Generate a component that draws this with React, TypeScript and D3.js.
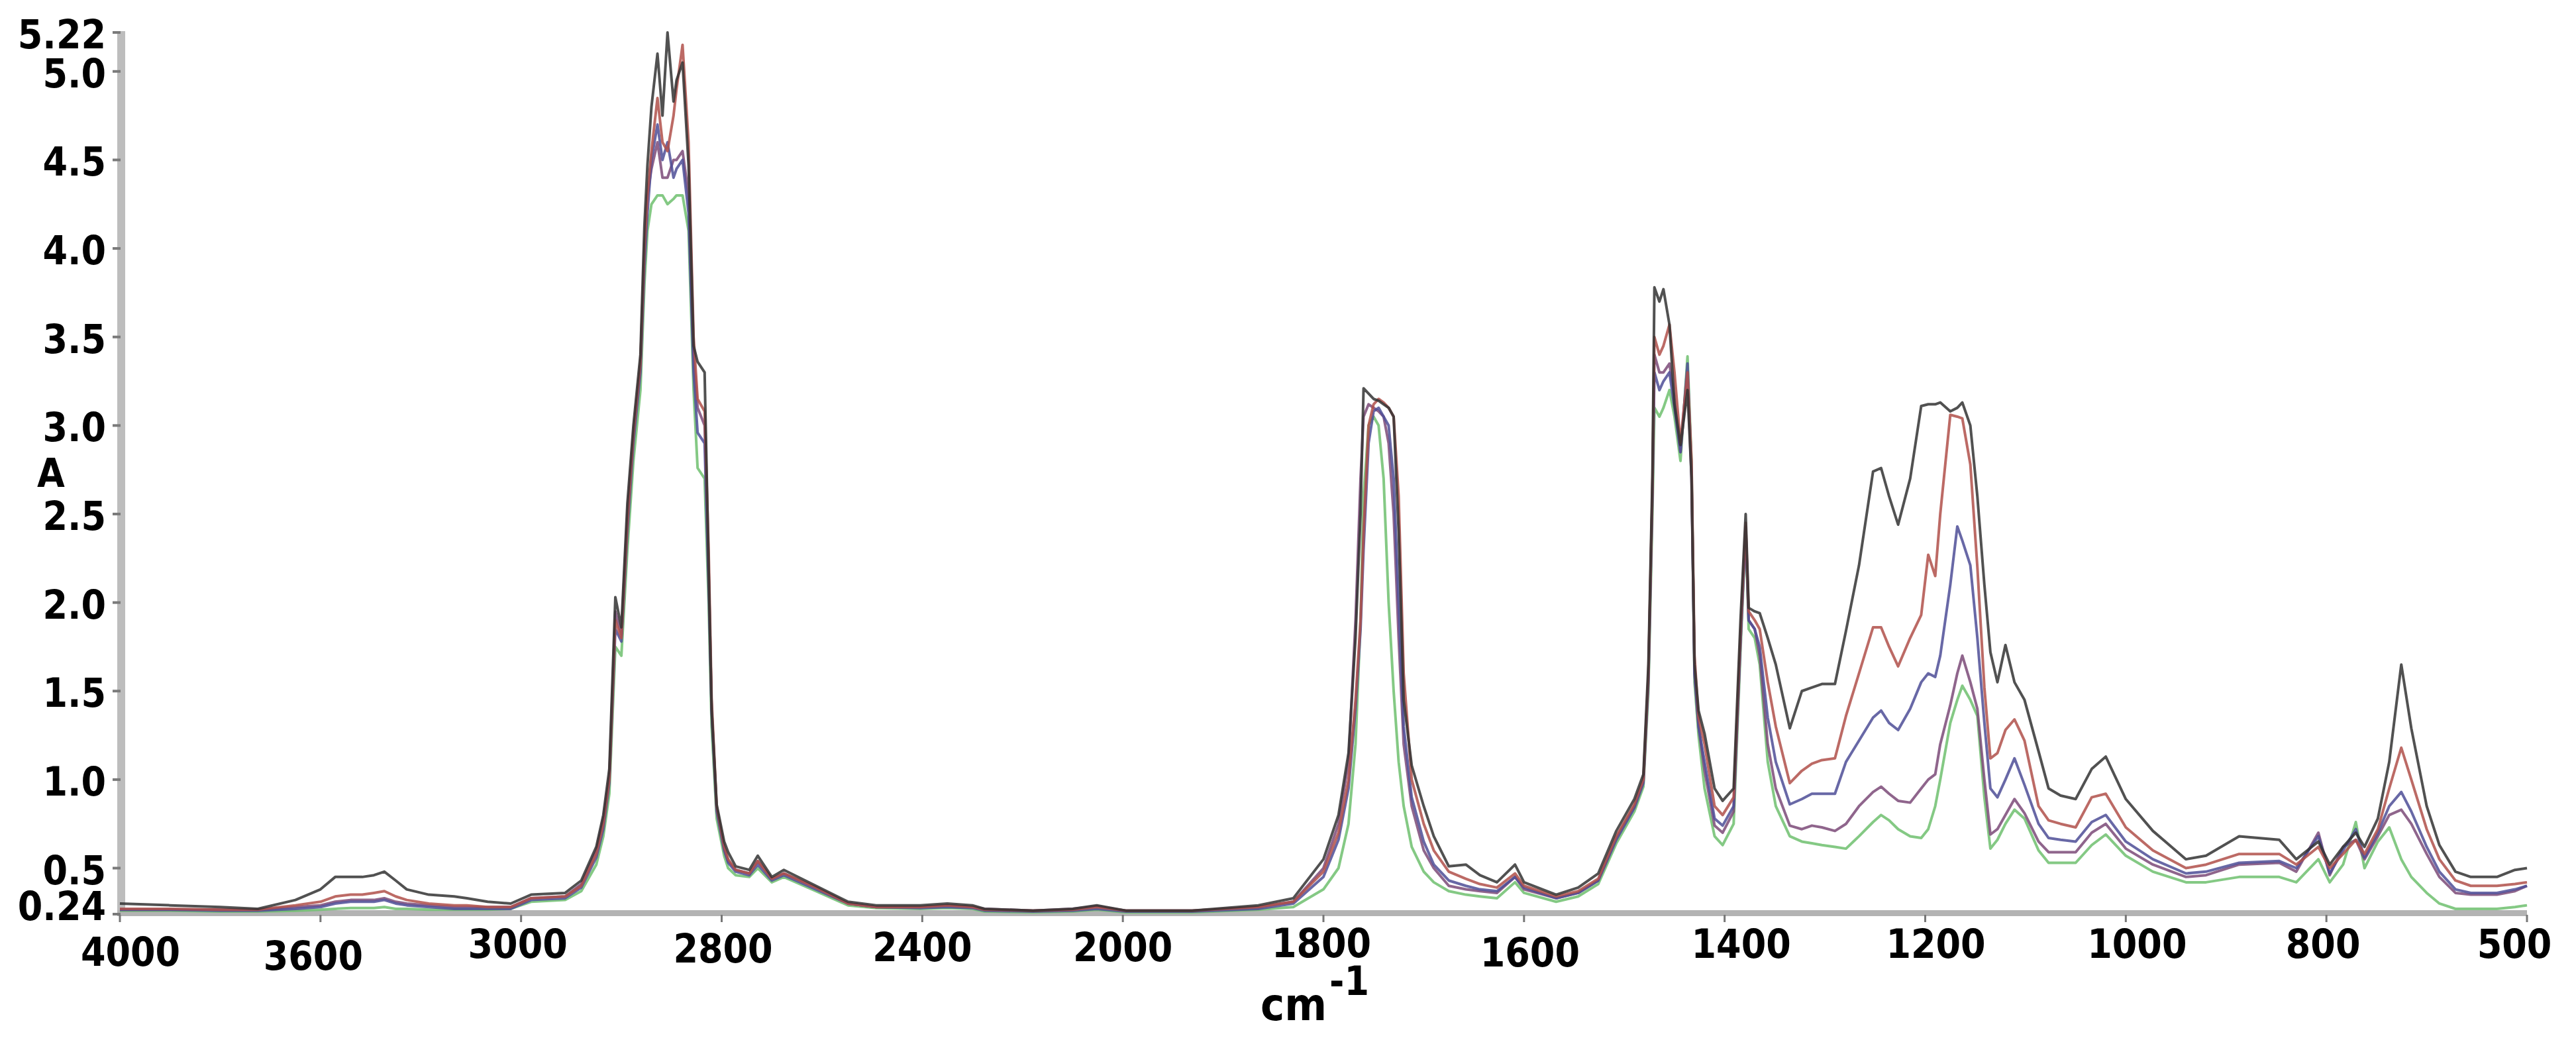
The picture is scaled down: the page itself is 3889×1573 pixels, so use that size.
import React from "react";
import * as d3 from "d3";

// ---------- data ----------
const X_TICKS = [4000, 3600, 3000, 2800, 2400, 2000, 1800, 1600, 1400, 1200, 1000, 800, 500];
const Y_TICKS = [5.22, 5.0, 4.5, 4.0, 3.5, 3.0, 2.5, 2.0, 1.5, 1.0, 0.5, 0.24];
const Y_TICK_LABELS = ["5.22", "5.0", "4.5", "4.0", "3.5", "3.0", "2.5", "2.0", "1.5", "1.0", "0.5", "0.24"];

const WAVENUMBERS = [
  4000, 3900, 3800, 3725, 3650, 3600, 3556, 3510, 3475, 3440, 3409, 3375, 3342, 3276, 3200, 3162, 3100, 3031,
  2990, 2956, 2940, 2925, 2918, 2912, 2906, 2900, 2894, 2888, 2881, 2877, 2874, 2870, 2864, 2859, 2854, 2848, 2845, 2839, 2833, 2828, 2824, 2817, 2813, 2810, 2805, 2795, 2787,
  2772, 2745, 2728, 2700, 2676, 2612, 2548, 2492, 2404, 2350, 2300, 2276, 2179, 2100, 2052, 1997, 1931, 1865, 1830,
  1800, 1785, 1775, 1768, 1763, 1760, 1755, 1750, 1745, 1740, 1735, 1730, 1725, 1720, 1712, 1700, 1690, 1675, 1658, 1644, 1627, 1609, 1600, 1568, 1546, 1526,
  1508, 1490, 1481, 1476, 1472, 1470, 1465, 1461, 1455, 1450, 1444, 1437, 1433, 1430, 1426, 1420, 1410, 1402, 1391, 1384, 1379, 1376,
  1370, 1365, 1357, 1349, 1335, 1323, 1313, 1303, 1290, 1279, 1266, 1252, 1244, 1236, 1227, 1215, 1204, 1197, 1190, 1185,
  1175, 1168, 1163, 1155, 1148, 1141, 1135, 1128, 1120, 1111, 1101, 1087, 1077, 1065, 1050, 1034, 1020, 1000, 973, 940,
  920, 887, 847, 830, 808, 795, 775, 756, 743, 723, 706, 688, 673, 650, 631, 607, 584, 545, 518, 500,
];

const SAMPLE_BLACK = [
  0.30, 0.29, 0.28, 0.27, 0.32, 0.38, 0.45, 0.45, 0.45, 0.46, 0.48, 0.43, 0.38, 0.35, 0.34, 0.33, 0.31, 0.30,
  0.35, 0.36, 0.43, 0.62, 0.80, 1.06, 2.03, 1.86, 2.56, 3.00, 3.40, 4.13, 4.47, 4.80, 5.10, 4.75, 5.22, 4.83, 4.95, 5.05, 4.47, 3.45, 3.36, 3.30, 2.2, 1.40, 0.86, 0.65, 0.59,
  0.51, 0.49, 0.57, 0.45, 0.49, 0.40, 0.31, 0.29, 0.29, 0.30, 0.29, 0.27, 0.26, 0.27, 0.29, 0.26, 0.26, 0.29, 0.33,
  0.55, 0.80, 1.15, 1.8, 2.5, 3.21, 3.18, 3.15, 3.14, 3.12, 3.10, 3.05, 2.4, 1.45, 1.08, 0.85, 0.68, 0.51, 0.52, 0.46, 0.42, 0.52, 0.42, 0.35, 0.39, 0.47,
  0.71, 0.89, 1.03, 1.65, 2.71, 3.78, 3.70, 3.77, 3.57, 3.12, 2.89, 3.2, 2.71, 1.65, 1.39, 1.26, 0.95, 0.88, 0.95, 1.92, 2.50, 1.97,
  1.95, 1.94, 1.80, 1.65, 1.29, 1.50, 1.52, 1.54, 1.54, 1.84, 2.21, 2.74, 2.76, 2.6, 2.44, 2.70, 3.11, 3.12, 3.12, 3.13,
  3.08, 3.10, 3.13, 3.00, 2.6, 2.1, 1.72, 1.55, 1.76, 1.55, 1.45, 1.16, 0.95, 0.91, 0.89, 1.06, 1.13, 0.89, 0.71, 0.55,
  0.57, 0.68, 0.66, 0.55, 0.65, 0.52, 0.62, 0.70, 0.62, 0.78, 1.10, 1.65, 1.29, 0.85, 0.63, 0.48, 0.45, 0.45, 0.49, 0.50,
];

const SAMPLE_RED = [
  0.27, 0.27, 0.265, 0.265, 0.29, 0.31, 0.34, 0.35, 0.35, 0.36, 0.37, 0.34, 0.32, 0.30, 0.29, 0.29, 0.28, 0.28,
  0.33, 0.34, 0.40, 0.58, 0.75, 1.0, 1.90, 1.80, 2.45, 2.95, 3.35, 4.0, 4.3, 4.55, 4.85, 4.6, 4.55, 4.75, 4.9, 5.15, 4.6, 3.5, 3.15, 3.08, 2.3, 1.45, 0.85, 0.62, 0.55,
  0.49, 0.47, 0.54, 0.44, 0.47, 0.39, 0.30, 0.28, 0.28, 0.29, 0.28, 0.265, 0.26, 0.265, 0.28, 0.26, 0.26, 0.28, 0.31,
  0.48, 0.70, 1.0, 1.45, 1.9, 2.4, 3.0, 3.12, 3.15, 3.13, 3.10, 3.05, 2.6, 1.6, 1.0, 0.75, 0.60, 0.48, 0.44, 0.41, 0.39, 0.47, 0.40, 0.34, 0.37, 0.44,
  0.68, 0.86, 1.0, 1.6, 2.65, 3.5, 3.4, 3.45, 3.57, 3.3, 2.9, 3.3, 2.8, 1.7, 1.35, 1.2, 0.85, 0.80, 0.9, 1.85, 2.45, 1.95,
  1.9, 1.85, 1.55, 1.3, 0.98, 1.05, 1.09, 1.11, 1.12, 1.36, 1.6, 1.86, 1.86, 1.75, 1.64, 1.8, 1.93, 2.27, 2.15, 2.5,
  3.06, 3.05, 3.04, 2.78, 2.2, 1.52, 1.12, 1.15, 1.28, 1.34, 1.22, 0.85, 0.77, 0.75, 0.73, 0.90, 0.92, 0.73, 0.6, 0.5,
  0.52, 0.58, 0.58, 0.52, 0.62, 0.50, 0.58, 0.66, 0.58, 0.72, 0.95, 1.18, 1.0, 0.72, 0.55, 0.43, 0.40, 0.40, 0.41, 0.42,
];

const SAMPLE_BLUE = [
  0.265, 0.265, 0.26, 0.26, 0.27, 0.28, 0.30, 0.31, 0.31, 0.31, 0.32, 0.30, 0.29, 0.28, 0.27, 0.27, 0.27, 0.27,
  0.32, 0.33, 0.39, 0.56, 0.72, 0.98, 1.85, 1.78, 2.4, 2.9, 3.3, 3.9, 4.2, 4.5, 4.7, 4.5, 4.6, 4.4, 4.45, 4.5, 4.2, 3.3, 2.96, 2.9, 2.1, 1.38, 0.82, 0.60, 0.53,
  0.48, 0.46, 0.52, 0.43, 0.46, 0.38, 0.30, 0.28, 0.275, 0.28, 0.275, 0.26, 0.255, 0.26, 0.27, 0.255, 0.255, 0.27, 0.30,
  0.45, 0.66, 0.95, 1.4, 1.85, 2.3, 2.9, 3.08, 3.10, 3.05, 3.0, 2.7, 2.0, 1.3, 0.9, 0.65, 0.52, 0.43, 0.40, 0.38, 0.37, 0.45, 0.39, 0.33, 0.36, 0.43,
  0.66, 0.84, 0.98, 1.55, 2.6, 3.3, 3.2, 3.25, 3.3, 3.1, 2.85, 3.35, 2.75, 1.6, 1.3, 1.1, 0.78, 0.74, 0.85, 1.8, 2.42, 1.9,
  1.85, 1.75, 1.35, 1.1, 0.86, 0.89, 0.92, 0.92, 0.92, 1.1, 1.22, 1.35, 1.39, 1.32, 1.28, 1.4, 1.55, 1.60, 1.58, 1.7,
  2.1, 2.43, 2.35, 2.21, 1.8, 1.32, 0.95, 0.9, 1.0, 1.12, 0.97, 0.75, 0.67, 0.66, 0.65, 0.76, 0.80, 0.65, 0.55, 0.47,
  0.48, 0.53, 0.54, 0.50, 0.68, 0.47, 0.60, 0.72, 0.56, 0.70, 0.85, 0.93, 0.82, 0.62, 0.48, 0.38, 0.36, 0.36, 0.38, 0.40,
];

const SAMPLE_PURPLE = [
  0.265, 0.265, 0.265, 0.265, 0.28, 0.29, 0.31, 0.32, 0.32, 0.32, 0.33, 0.31, 0.30, 0.29, 0.28, 0.28, 0.28, 0.28,
  0.33, 0.34, 0.41, 0.60, 0.78, 1.02, 1.95, 1.82, 2.5, 2.95, 3.35, 4.0, 4.3, 4.45, 4.6, 4.4, 4.4, 4.5, 4.5, 4.55, 4.3, 3.4, 3.1, 3.0, 2.2, 1.4, 0.84, 0.61, 0.54,
  0.49, 0.47, 0.54, 0.44, 0.47, 0.39, 0.30, 0.28, 0.28, 0.29, 0.28, 0.27, 0.26, 0.27, 0.285, 0.26, 0.26, 0.28, 0.31,
  0.50, 0.75, 1.1, 1.9, 2.7, 3.05, 3.12, 3.10, 3.08, 3.05, 2.9, 2.5, 1.8, 1.2, 0.85, 0.6, 0.5, 0.4, 0.38, 0.37, 0.36, 0.45, 0.38, 0.33, 0.36, 0.43,
  0.67, 0.85, 0.99, 1.58, 2.62, 3.4, 3.3, 3.3, 3.35, 3.15, 2.85, 3.3, 2.7, 1.6, 1.3, 1.05, 0.74, 0.70, 0.82, 1.8, 2.43, 1.9,
  1.85, 1.7, 1.2, 0.95, 0.74, 0.72, 0.74, 0.73, 0.71, 0.75, 0.85, 0.93, 0.96, 0.92, 0.88, 0.87, 0.95, 1.0, 1.03, 1.2,
  1.42, 1.6, 1.70, 1.55, 1.4, 1.0, 0.69, 0.72, 0.8, 0.89, 0.81, 0.65, 0.59, 0.59, 0.59, 0.7, 0.75, 0.61, 0.52, 0.45,
  0.46, 0.52, 0.53, 0.48, 0.70, 0.46, 0.62, 0.66, 0.55, 0.68, 0.80, 0.83, 0.75, 0.58, 0.45, 0.36, 0.35, 0.35, 0.37, 0.40,
];

const SAMPLE_GREEN = [
  0.26, 0.26, 0.255, 0.255, 0.26, 0.265, 0.27, 0.275, 0.275, 0.275, 0.28, 0.27, 0.27, 0.265, 0.265, 0.265, 0.265, 0.27,
  0.31, 0.32, 0.37, 0.52, 0.68, 0.92, 1.75, 1.70, 2.3, 2.8, 3.2, 3.8, 4.1, 4.25, 4.3, 4.3, 4.25, 4.28, 4.3, 4.3, 4.1, 3.2, 2.76, 2.7, 2.0, 1.3, 0.78, 0.57, 0.50,
  0.46, 0.45, 0.50, 0.42, 0.45, 0.37, 0.29, 0.275, 0.27, 0.275, 0.27, 0.255, 0.25, 0.255, 0.265, 0.25, 0.25, 0.265, 0.28,
  0.38, 0.50, 0.75, 1.2, 1.9, 2.6, 3.0, 3.05, 3.0, 2.7, 2.0, 1.5, 1.1, 0.85, 0.62, 0.48, 0.42, 0.37, 0.35, 0.34, 0.33, 0.42, 0.36, 0.31, 0.34, 0.41,
  0.64, 0.82, 0.96, 1.5, 2.5, 3.1, 3.05, 3.1, 3.2, 3.05, 2.8, 3.39, 2.8, 1.55, 1.25, 0.95, 0.68, 0.63, 0.75, 1.75, 2.40, 1.85,
  1.8, 1.65, 1.1, 0.85, 0.68, 0.65, 0.64, 0.63, 0.62, 0.61, 0.68, 0.76, 0.80, 0.77, 0.72, 0.68, 0.67, 0.72, 0.85, 1.0,
  1.32, 1.45, 1.53, 1.45, 1.36, 0.9, 0.61, 0.66, 0.75, 0.83, 0.78, 0.60, 0.53, 0.53, 0.53, 0.63, 0.69, 0.57, 0.48, 0.42,
  0.42, 0.45, 0.45, 0.42, 0.55, 0.42, 0.52, 0.76, 0.50, 0.65, 0.73, 0.55, 0.45, 0.36, 0.30, 0.27, 0.27, 0.27, 0.28, 0.29,
];

// drawing order: bottom first
const SERIES = [
  { name: "green", values: SAMPLE_GREEN, color: "#6fbf6f" },
  { name: "purple", values: SAMPLE_PURPLE, color: "#7b4a78" },
  { name: "blue", values: SAMPLE_BLUE, color: "#4e4e96" },
  { name: "red", values: SAMPLE_RED, color: "#b0504a" },
  { name: "black", values: SAMPLE_BLACK, color: "#333333" },
];

// ---------- layout ----------
const W = 3889;
const H = 1573;
const X_LEFT = 181;
const X_RIGHT = 3815;
const Y_BOTTOM = 1380;
const Y_TOP = 49;
const FONT = "'DejaVu Sans Condensed', 'DejaVu Sans', sans-serif";
const X_LABEL_NUDGE = [
  [16, 7], [-11, 13], [-5, -5], [2, 2], [0, 0], [0, 0], [-3, -6], [9, 8], [25, -5], [16, -5], [17, -5], [-5, -5], [-19, -5],
];

export default function App() {
  const step = (X_RIGHT - X_LEFT) / (X_TICKS.length - 1);
  const x = d3
    .scaleLinear()
    .domain(X_TICKS)
    .range(X_TICKS.map((_, i) => X_LEFT + i * step));
  const y = d3.scaleLinear().domain([0.24, 5.22]).range([Y_BOTTOM, Y_TOP]);

  const makeLine = (vals: number[]) =>
    d3
      .line<number>()
      .x((_, i) => x(WAVENUMBERS[i]))
      .y((d) => y(d))
      .curve(d3.curveLinear)(vals) || "";

  return (
    <div style={{ position: "absolute", left: 0, top: 0, width: W, height: H, background: "#fff" }}>
      <svg width={W} height={H} style={{ display: "block" }}>
        <rect x={0} y={0} width={W} height={H} fill="#fff" />
        {/* axes */}
        <rect x={177} y={y(5.22) - 2} width={12} height={Y_BOTTOM + 3 - (y(5.22) - 2)} fill="#bdbdbd" />
        <rect x={177} y={1374} width={X_RIGHT - 177} height={9} fill="#b3b3b3" />
        {Y_TICKS.map((v) => (
          <rect key={"yt" + v} x={170} y={y(v) - 2} width={12} height={4} fill="#7a7a7a" />
        ))}
        {X_TICKS.map((v) => (
          <rect key={"xt" + v} x={x(v) - 1.5} y={1381} width={3} height={11} fill="#777" />
        ))}
        {/* spectra */}
        {SERIES.map((s) => (
          <path
            key={s.name}
            d={makeLine(s.values)}
            fill="none"
            stroke={s.color}
            strokeWidth={4}
            strokeOpacity={0.85}
            strokeLinejoin="round"
          />
        ))}
        {/* y labels */}
        {Y_TICKS.map((v, i) => (
          <text
            key={"yl" + v}
            x={160}
            y={Math.min(y(v) + 3, 1368) + 21}
            textAnchor="end"
            fontFamily={FONT}
            fontWeight="bold"
            fontSize={60}
            fill="#000"
          >
            {Y_TICK_LABELS[i]}
          </text>
        ))}
        {/* x labels */}
        {X_TICKS.map((v, i) => (
          <text
            key={"xl" + v}
            x={x(v) + X_LABEL_NUDGE[i][0]}
            y={1430 + X_LABEL_NUDGE[i][1] + 21}
            textAnchor="middle"
            fontFamily={FONT}
            fontWeight="bold"
            fontSize={60}
            fill="#000"
          >
            {String(v)}
          </text>
        ))}
        {/* axis titles */}
        <text x={77} y={735} textAnchor="middle" fontFamily={FONT} fontWeight="bold" fontSize={60} fill="#000">
          A
        </text>
        <text x={1903} y={1540} fontFamily={FONT} fontWeight="bold" fontSize={68} fill="#000">
          cm
          <tspan x={2007} y={1502} fontSize={60}>
            -1
          </tspan>
        </text>
      </svg>
    </div>
  );
}
